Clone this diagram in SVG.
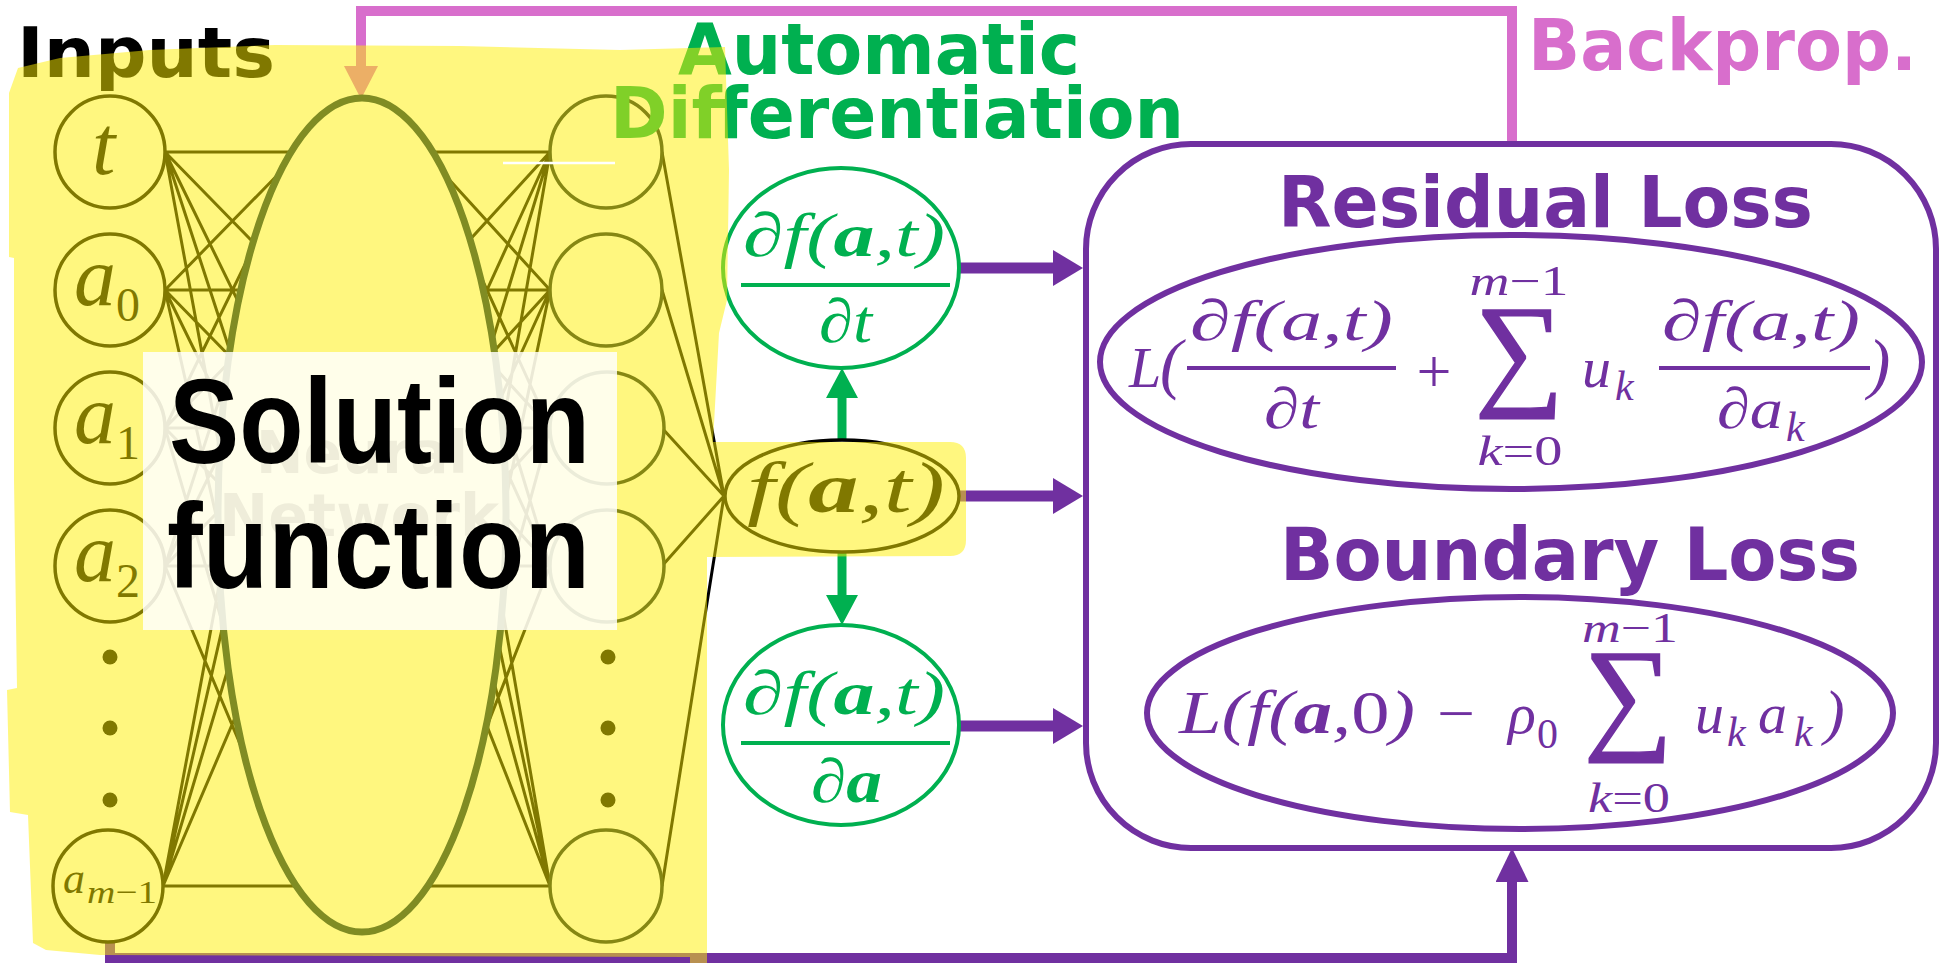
<svg xmlns="http://www.w3.org/2000/svg" width="1941" height="963" viewBox="0 0 1941 963">
<defs>
<style>
.nn{stroke:#000;stroke-width:3;fill:none}
.in{fill:#fff;stroke:#000;stroke-width:3.5}
.hid{fill:#fff;stroke:#0c1e26;stroke-width:3.5}
.m{font-family:"Liberation Serif","DejaVu Serif",serif;font-style:italic}
.up{font-style:normal}
.b{font-weight:bold}
.h{font-family:"DejaVu Sans","Liberation Sans",sans-serif;font-weight:bold}
.pu{fill:#7030A0}
.gr{fill:#00B050}
.pl{stroke:#7030A0;fill:none}
.gl{stroke:#00B050;fill:none}
.sig{stroke:#7030A0;stroke-width:1.5}
</style>
<marker id="ap" markerUnits="userSpaceOnUse" markerWidth="30" markerHeight="36" refX="0" refY="18" orient="auto" viewBox="0 0 30 36"><path d="M0,0L30,18L0,36z" fill="#7030A0"/></marker>
<marker id="ab" markerUnits="userSpaceOnUse" markerWidth="34" markerHeight="33" refX="0" refY="16.5" orient="auto" viewBox="0 0 34 33"><path d="M0,0L34,16.5L0,33z" fill="#7030A0"/></marker>
<marker id="ak" markerUnits="userSpaceOnUse" markerWidth="33" markerHeight="34" refX="0" refY="17" orient="auto" viewBox="0 0 33 34"><path d="M0,0L33,17L0,34z" fill="#D86ECC"/></marker>
<marker id="ag" markerUnits="userSpaceOnUse" markerWidth="30" markerHeight="32" refX="0" refY="16" orient="auto" viewBox="0 0 30 32"><path d="M0,0L30,16L0,32z" fill="#00B050"/></marker>
</defs>
<rect width="1941" height="963" fill="#fff"/>

<g id="connectors">
<path class="nn" d="M165 152L300 152M165 152L300 290M165 152L300 428M165 152L300 566M165 152L300 886M165 290L300 152M165 290L300 290M165 290L300 428M165 290L300 566M165 290L300 886M165 428L300 152M165 428L300 290M165 428L300 428M165 428L300 566M165 428L300 886M165 566L300 152M165 566L300 290M165 566L300 428M165 566L300 566M165 566L300 886M163 886L300 152M163 886L300 290M163 886L300 428M163 886L300 566M163 886L300 886"/>
<path class="nn" d="M424 152L550 152M424 152L550 290M424 152L550 428M424 152L550 566M424 152L550 886M424 290L550 152M424 290L550 290M424 290L550 428M424 290L550 566M424 290L550 886M424 428L550 152M424 428L550 290M424 428L550 428M424 428L550 566M424 428L550 886M424 566L550 152M424 566L550 290M424 566L550 428M424 566L550 566M424 566L550 886M424 886L550 152M424 886L550 290M424 886L550 428M424 886L550 566M424 886L550 886"/>
<path class="nn" d="M662 152L724 496M662 290L724 496M662 428L724 496M662 566L724 496M662 886L724 496"/>
<path d="M1512 144V11H361V66" stroke="#D86ECC" stroke-width="10" fill="none" marker-end="url(#ak)"/>
<path class="pl" d="M110 943V958H1512V882" stroke-width="10" marker-end="url(#ab)"/>
<path class="gl" d="M842 440V398" stroke-width="9" marker-end="url(#ag)"/>
<path class="gl" d="M842 552V595" stroke-width="9" marker-end="url(#ag)"/>
<path class="pl" d="M960 268H1053" stroke-width="11" marker-end="url(#ap)"/>
<path class="pl" d="M959 496H1053" stroke-width="11" marker-end="url(#ap)"/>
<path class="pl" d="M960 726H1053" stroke-width="11" marker-end="url(#ap)"/>
</g>

<g id="input-t"><ellipse class="in" cx="110" cy="152" rx="55" ry="56"/><text class="m" x="92" y="174" font-size="84">t</text></g>
<g id="input-a0"><ellipse class="in" cx="110" cy="290" rx="55" ry="56"/><text class="m" x="74" y="305" font-size="84">a</text><text class="m up" x="116" y="321" font-size="48">0</text></g>
<g id="input-a1"><ellipse class="in" cx="110" cy="428" rx="55" ry="56"/><text class="m" x="74" y="443" font-size="84">a</text><text class="m up" x="116" y="459" font-size="48">1</text></g>
<g id="input-a2"><ellipse class="in" cx="110" cy="566" rx="55" ry="56"/><text class="m" x="74" y="581" font-size="84">a</text><text class="m up" x="116" y="597" font-size="48">2</text></g>
<g id="input-dots"><circle cx="110" cy="657" r="7.5"/><circle cx="110" cy="728" r="7.5"/><circle cx="110" cy="800" r="7.5"/></g>
<g id="input-am1"><ellipse class="in" cx="108" cy="886" rx="55" ry="56"/><text class="m" x="63" y="893" font-size="44">a</text><text class="m" x="87" y="903" font-size="32" textLength="70" lengthAdjust="spacingAndGlyphs">m<tspan class="up">−1</tspan></text></g>

<g id="hidden-layers"><ellipse cx="362" cy="515" rx="144" ry="417" fill="#fff" stroke="#002846" stroke-width="7"/></g>

<g id="out-1"><ellipse class="hid" cx="606" cy="152" rx="56" ry="56"/></g>
<g id="out-2"><ellipse class="hid" cx="606" cy="290" rx="56" ry="56"/></g>
<g id="out-3"><ellipse class="hid" cx="607" cy="428" rx="57" ry="56"/></g>
<g id="out-4"><ellipse class="hid" cx="607" cy="566" rx="57" ry="56"/></g>
<g id="out-dots"><circle cx="608" cy="657" r="7.5"/><circle cx="608" cy="728" r="7.5"/><circle cx="608" cy="800" r="7.5"/></g>
<g id="out-m"><ellipse class="hid" cx="606" cy="886" rx="56" ry="56"/></g>

<g id="f-node"><ellipse cx="842" cy="496" rx="117" ry="56" fill="#fff" stroke="#000" stroke-width="3.5"/><text class="m" x="747" y="512" font-size="72" textLength="198" lengthAdjust="spacingAndGlyphs">f(<tspan class="b">a</tspan>,t)</text></g>

<g id="dfdt-node"><ellipse cx="841" cy="268" rx="118" ry="100" fill="none" stroke="#00B050" stroke-width="4"/>
<text class="m gr" x="743" y="256" font-size="62" textLength="202" lengthAdjust="spacingAndGlyphs">∂f(<tspan class="b">a</tspan>,t)</text>
<line x1="741" y1="285" x2="950" y2="285" stroke="#00B050" stroke-width="4"/>
<text class="m gr" x="819" y="342" font-size="62" textLength="53" lengthAdjust="spacingAndGlyphs">∂t</text></g>

<g id="dfda-node"><ellipse cx="841" cy="725" rx="118" ry="100" fill="none" stroke="#00B050" stroke-width="4"/>
<text class="m gr" x="743" y="714" font-size="62" textLength="202" lengthAdjust="spacingAndGlyphs">∂f(<tspan class="b">a</tspan>,t)</text>
<line x1="741" y1="743" x2="950" y2="743" stroke="#00B050" stroke-width="4"/>
<text class="m gr" x="811" y="802" font-size="62" textLength="71" lengthAdjust="spacingAndGlyphs">∂<tspan class="b">a</tspan></text></g>

<g id="loss-box"><rect x="1086" y="144" width="850" height="704" rx="105" fill="none" stroke="#7030A0" stroke-width="6"/>
<text class="h pu" x="1278" y="227" font-size="71" textLength="535" lengthAdjust="spacingAndGlyphs">Residual Loss</text>
<text class="h pu" x="1280" y="580" font-size="73" textLength="580" lengthAdjust="spacingAndGlyphs">Boundary Loss</text></g>

<g id="residual-loss"><ellipse cx="1511" cy="362" rx="411" ry="127" fill="none" stroke="#7030A0" stroke-width="6"/>
<text class="m pu" x="1129" y="387" font-size="58">L</text>
<text class="m pu" x="1160" y="386" font-size="67">(</text>
<text class="m pu" x="1190" y="340" font-size="58" textLength="203" lengthAdjust="spacingAndGlyphs">∂f(a,t)</text>
<line x1="1187" y1="368" x2="1396" y2="368" stroke="#7030A0" stroke-width="4"/>
<text class="m pu" x="1264" y="428" font-size="58" textLength="55" lengthAdjust="spacingAndGlyphs">∂t</text>
<text class="m up pu" x="1434" y="392" font-size="62" text-anchor="middle">+</text>
<text class="m pu" x="1519" y="295" font-size="42" text-anchor="middle" textLength="99" lengthAdjust="spacingAndGlyphs">m<tspan class="up">−1</tspan></text>
<text class="m up pu sig" x="1519" y="392" font-size="125" text-anchor="middle">∑</text>
<text class="m pu" x="1520" y="465" font-size="42" text-anchor="middle" textLength="85" lengthAdjust="spacingAndGlyphs">k<tspan class="up">=0</tspan></text>
<text class="m pu" x="1582" y="387" font-size="58">u</text>
<text class="m pu" x="1615" y="400" font-size="42">k</text>
<text class="m pu" x="1662" y="340" font-size="58" textLength="198" lengthAdjust="spacingAndGlyphs">∂f(a,t)</text>
<line x1="1659" y1="368" x2="1870" y2="368" stroke="#7030A0" stroke-width="4"/>
<text class="m pu" x="1717" y="428" font-size="58" textLength="66" lengthAdjust="spacingAndGlyphs">∂a</text>
<text class="m pu" x="1786" y="441" font-size="42">k</text>
<text class="m pu" x="1868" y="386" font-size="67">)</text></g>

<g id="boundary-loss"><ellipse cx="1520" cy="713" rx="373" ry="116" fill="none" stroke="#7030A0" stroke-width="6"/>
<text class="m pu" x="1179" y="733" font-size="62" textLength="236" lengthAdjust="spacingAndGlyphs">L(f(<tspan class="b">a</tspan>,<tspan class="up">0</tspan>)</text>
<text class="m up pu" x="1437" y="733" font-size="58" textLength="38" lengthAdjust="spacingAndGlyphs">−</text>
<text class="m pu" x="1508" y="733" font-size="58">ρ</text>
<text class="m up pu" x="1537" y="748" font-size="42">0</text>
<text class="m pu" x="1630" y="642" font-size="42" text-anchor="middle" textLength="96" lengthAdjust="spacingAndGlyphs">m<tspan class="up">−1</tspan></text>
<text class="m up pu sig" x="1628" y="736" font-size="125" text-anchor="middle">∑</text>
<text class="m pu" x="1629" y="812" font-size="42" text-anchor="middle" textLength="82" lengthAdjust="spacingAndGlyphs">k<tspan class="up">=0</tspan></text>
<text class="m pu" x="1695" y="733" font-size="58">u</text>
<text class="m pu" x="1727" y="746" font-size="42">k</text>
<text class="m pu" x="1758" y="733" font-size="58">a</text>
<text class="m pu" x="1794" y="746" font-size="42">k</text>
<text class="m pu" x="1824" y="733" font-size="62">)</text></g>

<g id="labels">
<text class="h" x="17" y="77" font-size="70" textLength="258" lengthAdjust="spacingAndGlyphs">Inputs</text>
<text class="h gr" x="678" y="74" font-size="71" textLength="402" lengthAdjust="spacingAndGlyphs">Automatic</text>
<text class="h gr" x="610" y="138" font-size="71" textLength="574" lengthAdjust="spacingAndGlyphs">Differentiation</text>
<text class="h" x="1528" y="70" font-size="72" fill="#D86ECC" textLength="389" lengthAdjust="spacingAndGlyphs">Backprop.</text>
<text class="h" x="256" y="473" font-size="58" fill="#333" textLength="212" lengthAdjust="spacingAndGlyphs">Neural</text>
<text class="h" x="219" y="536" font-size="58" fill="#333" textLength="280" lengthAdjust="spacingAndGlyphs">Network</text>
</g>

<path id="highlight" d="M18 68L60 58L150 50L275 45L460 46L620 50L725 47L729 170L727 300L719 333L713 442L950 442Q966 442 966 458L966 540Q966 556 950 556L707 557L707 963L690 963L690 957L100 955L46 950L33 943L28 815L10 812L7 690L17 688L14 480L14 258L9 257L9 93Z" fill="#FFF000" opacity="0.5"/>
<line x1="503" y1="163" x2="615" y2="163" stroke="#fff" stroke-width="2.5"/>

<g id="solution-label">
<rect x="143" y="352" width="474" height="278" fill="#fff" opacity="0.84"/>
<text x="169" y="463" font-family="Liberation Sans, Arial, sans-serif" font-weight="bold" font-size="120" textLength="421" lengthAdjust="spacingAndGlyphs">Solution</text>
<text x="167" y="588" font-family="Liberation Sans, Arial, sans-serif" font-weight="bold" font-size="120" textLength="423" lengthAdjust="spacingAndGlyphs">function</text>
</g>
</svg>
